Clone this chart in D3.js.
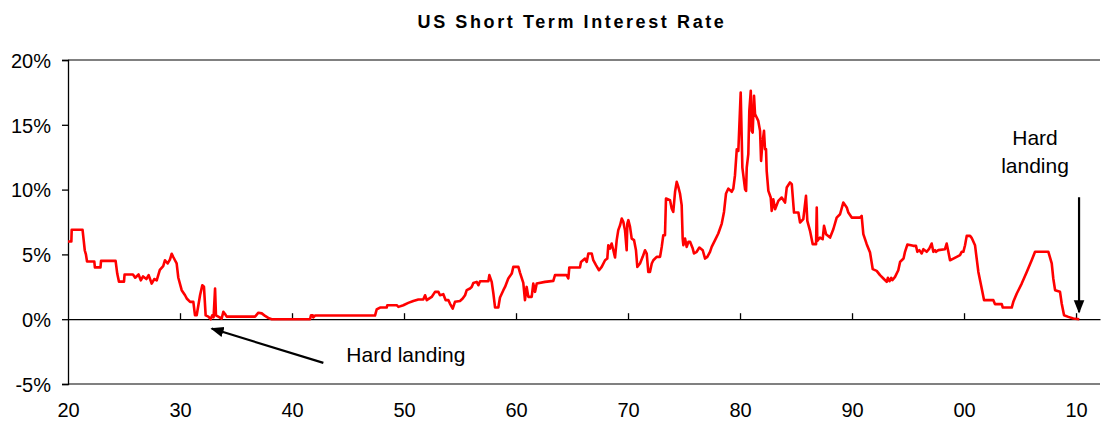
<!DOCTYPE html>
<html lang="en">
<head>
<meta charset="UTF-8">
<title>US Short Term Interest Rate</title>
<script src="https://d3js.org/d3.v7.min.js"></script>
<style>
    body { margin: 0; background: #fff; }
    svg { font-family: "Liberation Sans", Arial, sans-serif; }
    .title { font-size: 18px; font-weight: bold; letter-spacing: 2.6px; }
    .tick text { font-size: 20px; fill: #000; }
    .anno { font-size: 21px; fill: #000; }
    .rate { fill: none; stroke: #ff0000; stroke-width: 2.6; stroke-linejoin: round; }
</style>
</head>
<body>
<svg></svg>
<script>
// chart values: [year, rate %]
var rateSeries = [
  [1920.0, 6.0], [1920.3, 6.0], [1920.33, 6.9], [1921.3, 6.9], [1921.4, 6.1], [1921.5, 5.3], [1921.6, 5.0],
  [1921.7, 4.45], [1922.35, 4.45], [1922.4, 4.0], [1922.9, 4.0], [1922.95, 4.5], [1924.25, 4.5], [1924.4, 3.5],
  [1924.55, 2.9], [1925.0, 2.9], [1925.05, 3.45], [1925.8, 3.45], [1926.0, 3.2], [1926.3, 3.45], [1926.5, 3.0],
  [1926.7, 3.3], [1927.0, 3.1], [1927.2, 3.4], [1927.47, 2.75], [1927.7, 3.1], [1927.92, 3.0], [1928.2, 3.8],
  [1928.5, 4.1], [1928.66, 4.55], [1928.9, 4.3], [1929.1, 4.6], [1929.26, 5.05], [1929.4, 4.8], [1929.55, 4.55],
  [1929.7, 4.3], [1929.85, 3.2], [1930.15, 2.24], [1930.45, 1.85], [1930.6, 1.6], [1930.9, 1.34], [1931.19, 1.34],
  [1931.34, 0.3], [1931.49, 0.3], [1931.79, 1.85], [1931.99, 2.62], [1932.14, 2.5], [1932.29, 0.3], [1932.53, 0.2],
  [1932.74, 0.0], [1932.88, 0.3], [1933.0, 0.15], [1933.13, 2.37], [1933.21, 0.3], [1933.42, 0.2], [1933.72, 0.05],
  [1933.87, 0.57], [1934.02, 0.4], [1934.17, 0.2], [1936.7, 0.2], [1937.0, 0.5], [1937.3, 0.45], [1937.6, 0.25],
  [1937.88, 0.1], [1938.19, 0.0], [1941.61, 0.0], [1941.7, 0.31], [1941.85, 0.31], [1941.9, 0.13], [1942.05, 0.28],
  [1947.41, 0.28], [1947.56, 0.75], [1947.86, 0.9], [1948.45, 0.9], [1948.51, 1.08], [1949.35, 1.08], [1949.5, 0.95],
  [1949.94, 1.08], [1950.38, 1.26], [1950.83, 1.41], [1951.28, 1.52], [1951.72, 1.52], [1951.88, 1.85], [1952.03, 1.47],
  [1952.47, 1.72], [1952.77, 2.11], [1953.07, 2.11], [1953.21, 1.85], [1953.51, 1.93], [1953.72, 1.47], [1953.96, 1.47],
  [1954.1, 1.21], [1954.35, 0.82], [1954.55, 1.34], [1955.0, 1.41], [1955.24, 1.6], [1955.45, 1.85], [1955.6, 2.24],
  [1955.89, 2.37], [1956.04, 2.49], [1956.19, 2.8], [1956.49, 2.88], [1956.64, 2.62], [1956.79, 2.93], [1957.53, 2.93],
  [1957.62, 3.4], [1957.83, 2.88], [1957.98, 1.98], [1958.13, 0.9], [1958.42, 0.9], [1958.57, 1.67], [1958.87, 2.24],
  [1959.02, 2.49], [1959.31, 3.14], [1959.62, 3.52], [1959.76, 4.04], [1960.21, 4.04], [1960.36, 3.58], [1960.65, 2.8],
  [1960.8, 1.47], [1960.95, 2.49], [1961.1, 1.72], [1961.4, 1.72], [1961.54, 2.75], [1961.7, 2.11], [1961.85, 2.75],
  [1962.59, 2.88], [1963.33, 2.96], [1963.48, 3.4], [1964.52, 3.4], [1964.67, 3.14], [1964.76, 3.99], [1965.71, 3.99],
  [1965.8, 4.42], [1966.16, 4.68], [1966.31, 4.42], [1966.46, 5.07], [1966.76, 5.07], [1966.9, 4.55], [1967.14, 4.17],
  [1967.41, 3.78], [1967.65, 4.04], [1967.95, 4.55], [1968.15, 4.68], [1968.24, 5.71], [1968.39, 5.45], [1968.54, 5.84],
  [1968.69, 5.32], [1968.84, 4.76], [1968.99, 6.1], [1969.13, 6.87], [1969.29, 7.25], [1969.44, 7.77], [1969.58, 7.51],
  [1969.73, 6.87], [1969.88, 5.32], [1969.94, 7.38], [1970.03, 7.64], [1970.18, 7.12], [1970.33, 6.22], [1970.54, 6.1],
  [1970.71, 5.32], [1970.83, 4.04], [1971.07, 4.3], [1971.31, 4.81], [1971.52, 5.32], [1971.67, 5.07], [1971.81, 3.65],
  [1971.96, 3.65], [1972.12, 4.3], [1972.26, 4.55], [1972.56, 4.81], [1972.86, 4.81], [1973.01, 5.58], [1973.15, 6.48],
  [1973.3, 6.48], [1973.39, 9.31], [1973.75, 9.18], [1973.9, 8.54], [1974.04, 8.28], [1974.2, 9.83], [1974.35, 10.6],
  [1974.49, 10.21], [1974.64, 9.7], [1974.79, 8.8], [1974.88, 6.22], [1974.94, 5.71], [1975.09, 6.22], [1975.24, 5.58],
  [1975.39, 5.97], [1975.54, 5.97], [1975.78, 5.45], [1975.89, 5.07], [1976.13, 5.2], [1976.37, 5.53], [1976.67, 5.32],
  [1976.88, 4.68], [1977.08, 4.81], [1977.32, 5.2], [1977.47, 5.58], [1977.77, 6.1], [1978.06, 6.61], [1978.37, 7.38],
  [1978.57, 8.28], [1978.75, 9.7], [1978.96, 10.08], [1979.26, 9.83], [1979.4, 10.08], [1979.55, 11.11], [1979.71, 13.1],
  [1979.85, 12.99], [1980.06, 17.49], [1980.21, 11.7], [1980.45, 10.03], [1980.54, 9.9], [1980.6, 11.7], [1980.74, 12.73],
  [1980.83, 16.08], [1980.96, 17.62], [1981.04, 14.53], [1981.13, 14.4], [1981.25, 17.23], [1981.34, 15.82], [1981.49, 15.56],
  [1981.63, 15.3], [1981.79, 14.53], [1981.88, 12.22], [1981.99, 13.5], [1982.14, 14.53], [1982.23, 13.12], [1982.32, 13.12],
  [1982.38, 11.45], [1982.53, 9.9], [1982.74, 9.39], [1982.83, 8.36], [1982.97, 9.26], [1983.13, 8.49], [1983.42, 9.13],
  [1983.72, 9.39], [1984.02, 9.0], [1984.17, 10.16], [1984.46, 10.55], [1984.62, 10.42], [1984.82, 8.23], [1985.21, 8.23],
  [1985.36, 7.46], [1985.65, 7.72], [1985.89, 9.52], [1986.01, 7.59], [1986.25, 6.82], [1986.49, 5.79], [1986.79, 5.79],
  [1986.85, 8.62], [1986.9, 6.04], [1987.14, 6.3], [1987.38, 6.17], [1987.5, 7.2], [1987.68, 6.56], [1988.04, 6.3],
  [1988.33, 6.94], [1988.63, 7.84], [1988.93, 8.1], [1989.22, 9.0], [1989.53, 8.62], [1989.67, 8.23], [1989.97, 7.84],
  [1990.71, 7.84], [1990.86, 7.97], [1991.01, 6.56], [1991.31, 5.79], [1991.61, 5.14], [1991.85, 3.86], [1992.2, 3.73],
  [1992.5, 3.4], [1992.8, 3.14], [1993.1, 2.88], [1993.2, 3.19], [1993.35, 2.93], [1993.5, 3.19], [1993.6, 3.01],
  [1993.84, 3.27], [1994.13, 3.78], [1994.29, 4.42], [1994.44, 4.55], [1994.6, 4.68], [1994.73, 5.2], [1994.94, 5.76],
  [1995.47, 5.66], [1995.71, 5.66], [1995.83, 5.2], [1996.01, 5.33], [1996.22, 5.07], [1996.37, 5.4], [1996.67, 5.2],
  [1996.9, 5.45], [1997.11, 5.84], [1997.26, 5.2], [1997.41, 5.33], [1997.5, 5.2], [1997.71, 5.33], [1998.3, 5.4],
  [1998.45, 5.84], [1998.6, 5.2], [1998.75, 4.55], [1999.05, 4.68], [1999.35, 4.81], [1999.64, 4.94], [1999.79, 5.2],
  [1999.94, 5.2], [2000.09, 5.71], [2000.24, 6.43], [2000.54, 6.43], [2000.68, 6.28], [2000.98, 5.71], [2001.13, 4.68],
  [2001.28, 3.65], [2001.43, 3.01], [2001.58, 2.37], [2001.79, 1.47], [2002.62, 1.47], [2002.77, 1.16], [2003.37, 1.16],
  [2003.46, 0.9], [2004.26, 0.9], [2004.4, 1.34], [2004.71, 1.98], [2005.15, 2.75], [2005.6, 3.65], [2006.04, 4.55],
  [2006.34, 5.2], [2007.53, 5.2], [2007.83, 4.3], [2007.97, 3.14], [2008.13, 2.24], [2008.57, 2.11], [2008.72, 1.21],
  [2008.93, 0.31], [2009.31, 0.18], [2009.76, 0.05], [2010.29, 0.0]
];
var yTicks = [-5, 0, 5, 10, 15, 20];
var xTicks = [1920, 1930, 1940, 1950, 1960, 1970, 1980, 1990, 2000, 2010];
var chartTitle = "US Short Term Interest Rate";
var annoLeft = "Hard landing";
var annoRight = ["Hard", "landing"];

var svgWidth = 1101, svgHeight = 430;
var plotLeft = 68, plotTop = 60, plotRight = 1100, plotBottom = 384;

var svg = d3.select("svg")
    .attr("width", svgWidth)
    .attr("height", svgHeight);

var xs = d3.scaleLinear().domain([1920, 2012.14]).range([plotLeft, plotRight]);
var ys = d3.scaleLinear().domain([-5, 20]).range([plotBottom, plotTop]);

// title
svg.append("text")
    .attr("class", "title")
    .attr("x", 572)
    .attr("y", 28)
    .attr("text-anchor", "middle")
    .text(chartTitle);

// grey frame lines top and bottom
svg.append("line")
    .attr("x1", plotLeft).attr("x2", plotRight)
    .attr("y1", ys(20)).attr("y2", ys(20))
    .attr("stroke", "#808080").attr("stroke-width", 2);
svg.append("line")
    .attr("x1", plotLeft).attr("x2", plotRight)
    .attr("y1", ys(-5)).attr("y2", ys(-5))
    .attr("stroke", "#808080").attr("stroke-width", 2);

// y axis
var yAxis = svg.append("g")
    .attr("transform", "translate(" + plotLeft + ",0)")
    .call(d3.axisLeft(ys).tickValues(yTicks).tickSize(6).tickPadding(11)
        .tickFormat(function(d) { return d + "%"; }));
yAxis.select(".domain").attr("stroke", "#000").attr("stroke-width", 1.3);
yAxis.selectAll(".tick line").attr("stroke", "#000").attr("stroke-width", 1.3);
yAxis.selectAll(".tick text").attr("dy", "0.36em");

// zero line with upward ticks
var zeroAxis = svg.append("g")
    .attr("transform", "translate(0," + ys(0) + ")")
    .call(d3.axisBottom(xs).tickValues(xTicks.slice(1)).tickSize(-6).tickSizeOuter(0).tickFormat(""));
zeroAxis.select(".domain").attr("stroke", "#000").attr("stroke-width", 1.3);
zeroAxis.selectAll(".tick line").attr("stroke", "#000").attr("stroke-width", 1.3);

// year labels below the frame
var labelAxis = svg.append("g")
    .attr("transform", "translate(0," + plotBottom + ")")
    .call(d3.axisBottom(xs).tickValues(xTicks).tickSize(0).tickPadding(19)
        .tickFormat(function(d) { return d3.format("02d")(d % 100); }));
labelAxis.select(".domain").remove();

// rate line
var line = d3.line()
    .x(function(d) { return xs(d[0]); })
    .y(function(d) { return ys(d[1]); });

svg.append("path")
    .datum(rateSeries)
    .attr("class", "rate")
    .attr("d", line);

// arrows
var defs = svg.append("defs");
defs.append("marker")
    .attr("id", "head")
    .attr("viewBox", "0 0 10 10")
    .attr("refX", 9).attr("refY", 5)
    .attr("markerWidth", 6).attr("markerHeight", 6)
    .attr("markerUnits", "strokeWidth")
    .attr("orient", "auto")
    .append("path")
    .attr("d", "M0,1 L10,5 L0,9 Z")
    .attr("fill", "#000");

svg.append("line")
    .attr("x1", xs(1942.8)).attr("y1", ys(-3.37))
    .attr("x2", xs(1932.83)).attr("y2", ys(-0.72))
    .attr("stroke", "#000").attr("stroke-width", 2.2)
    .attr("marker-end", "url(#head)");

svg.append("text")
    .attr("class", "anno")
    .attr("x", xs(1944.85))
    .attr("y", ys(-3.3))
    .text(annoLeft);

svg.append("line")
    .attr("x1", xs(2010.27)).attr("y1", ys(9.41))
    .attr("x2", xs(2010.27)).attr("y2", ys(0.54))
    .attr("stroke", "#000").attr("stroke-width", 2.2)
    .attr("marker-end", "url(#head)");

svg.append("text")
    .attr("class", "anno")
    .attr("text-anchor", "middle")
    .attr("x", 1035)
    .attr("y", 145)
    .selectAll("tspan")
    .data(annoRight)
    .enter()
    .append("tspan")
    .attr("x", 1035)
    .attr("dy", function(d, i) { return i === 0 ? 0 : 28; })
    .text(function(d) { return d; });
</script>
</body>
</html>
